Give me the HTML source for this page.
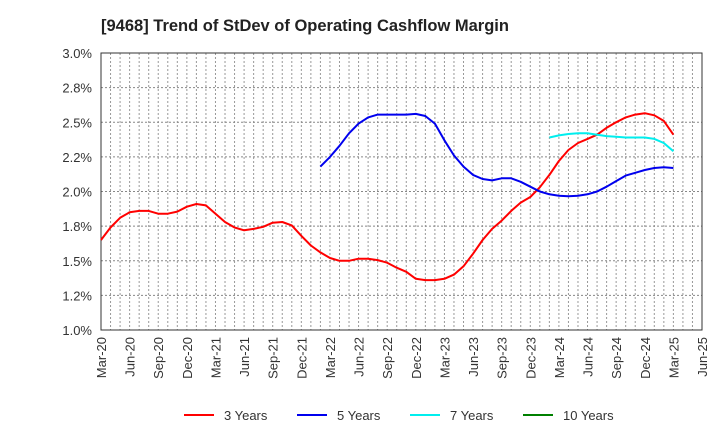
<!DOCTYPE html>
<html><head><meta charset="utf-8"><style>
body{margin:0;background:#fff;}
svg text{font-family:"Liberation Sans",Arial,sans-serif;}
</style></head><body>
<svg width="720" height="440" viewBox="0 0 720 440">
<text x="101" y="31" font-size="16.5" font-weight="bold" fill="#222">[9468]  Trend of StDev of Operating Cashflow Margin</text>
<g id="grid"></g>
<rect x="101" y="53" width="601" height="277" fill="none" stroke="#333" stroke-width="1"/>
<g id="yticks"></g><g id="xticks"></g><g id="lines"></g>
<g id="legend"></g>
</svg>
<script>
const yTicks=[1.0,1.25,1.5,1.75,2.0,2.25,2.5,2.75,3.0];
const yTickLabels=["1.0%","1.2%","1.5%","1.8%","2.0%","2.2%","2.5%","2.8%","3.0%"];
const xTickLabels=["Mar-20","Jun-20","Sep-20","Dec-20","Mar-21","Jun-21","Sep-21","Dec-21","Mar-22","Jun-22","Sep-22","Dec-22","Mar-23","Jun-23","Sep-23","Dec-23","Mar-24","Jun-24","Sep-24","Dec-24","Mar-25","Jun-25"];
const seriesNames=["3 Years","5 Years","7 Years","10 Years"];
const seriesColors=["#ff0000","#0000ee","#00eeee","#008000"];
const red=[1.65,1.74,1.81,1.85,1.86,1.86,1.84,1.84,1.855,1.89,1.91,1.90,1.84,1.78,1.74,1.72,1.73,1.745,1.775,1.78,1.755,1.68,1.61,1.56,1.52,1.50,1.50,1.515,1.515,1.505,1.486,1.45,1.42,1.37,1.36,1.36,1.37,1.40,1.46,1.55,1.65,1.73,1.79,1.86,1.92,1.96,2.03,2.12,2.22,2.30,2.35,2.38,2.41,2.46,2.50,2.535,2.555,2.565,2.55,2.51,2.41];
const blueStart=23;
const blue=[2.18,2.25,2.33,2.42,2.49,2.535,2.555,2.555,2.555,2.555,2.56,2.545,2.49,2.37,2.26,2.18,2.12,2.09,2.08,2.095,2.095,2.07,2.035,2.00,1.98,1.97,1.965,1.97,1.98,2.00,2.035,2.075,2.115,2.135,2.155,2.17,2.175,2.17];
const cyanStart=47;
const cyan=[2.39,2.405,2.415,2.42,2.42,2.41,2.40,2.395,2.39,2.39,2.39,2.38,2.35,2.29];
const NS="http://www.w3.org/2000/svg";
const X0=101,X1=702,Y0=53,Y1=330,NM=63;
const xs=i=>X0+(X1-X0)*i/NM;
const ys=v=>Y1-(v-1.0)/(3.0-1.0)*(Y1-Y0);
function mk(t,a,p){const e=document.createElementNS(NS,t);for(const k in a)e.setAttribute(k,a[k]);p.appendChild(e);return e;}
const grid=document.getElementById('grid');
for(let m=1;m<NM;m++){const l=mk('line',{x1:xs(m),x2:xs(m),y1:Y0,y2:Y1,stroke:'#999','stroke-dasharray':'2,2','stroke-width':1},grid);

}
yTicks.forEach((v,k)=>{if(v>1&&v<3){const l=mk('line',{x1:X0,x2:X1,y1:ys(v),y2:ys(v),stroke:'#888','stroke-dasharray':'2,2','stroke-width':1},grid);

}
const t=mk('text',{x:92,y:ys(v)+5,'text-anchor':'end','font-size':13,fill:'#333'},document.getElementById('yticks'));t.textContent=yTickLabels[k];

});
xTickLabels.forEach((s,k)=>{const x=xs(k*3);const t=mk('text',{x:0,y:0,transform:`translate(${x+5},337) rotate(-90)`,'text-anchor':'end','font-size':13,fill:'#333'},document.getElementById('xticks'));t.textContent=s;

});
const lines=document.getElementById('lines');
function draw(arr,start,col,name){const d=arr.map((v,i)=>(i?'L':'M')+xs(start+i).toFixed(1)+','+ys(v).toFixed(1)).join('');
const p=mk('path',{d:d,fill:'none',stroke:col,'stroke-width':2,'stroke-linejoin':'round'},lines);

}
draw(red,0,seriesColors[0],'line-3-years');
draw(blue,blueStart,seriesColors[1],'line-5-years');
draw(cyan,cyanStart,seriesColors[2],'line-7-years');
const lg=document.getElementById('legend');
seriesNames.forEach((n,k)=>{const x=184+k*113;const g=mk('g',{},lg);


mk('line',{x1:x,x2:x+30,y1:415,y2:415,stroke:seriesColors[k],'stroke-width':2},g);
const t=mk('text',{x:x+40,y:420,'font-size':13,fill:'#333'},g);t.textContent=n;});
</script>
</body></html>
